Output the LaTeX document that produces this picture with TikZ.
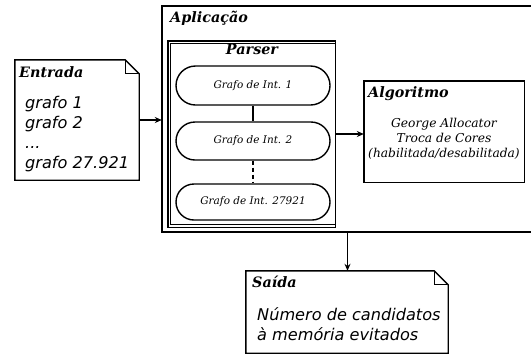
\documentclass[tikz,border=0pt]{standalone}
\usepackage{fontspec}
\setmainfont{DejaVu Serif}
\newfontfamily\dsans{DejaVu Sans}
\usetikzlibrary{arrows.meta,calc,shapes.misc}
\tikzset{
  ln/.style={line width=1.4bp, black},
  frame/.style={draw=none, inner sep=0pt, rectangle},
  ttl/.style={inner sep=0pt, anchor=base west, font=\fontsize{14.4}{16}\selectfont\bfseries\itshape},
  gnode/.style={draw, ln, rounded rectangle, rounded rectangle arc length=180, minimum width=154bp, inner sep=0pt, font=\fontsize{10.5}{12}\selectfont\itshape},
  arr/.style={ln, -{Stealth[length=7bp,width=6bp]}},
  sanstext/.style={inner sep=0pt, anchor=base west, align=left, font=\dsans\fontsize{16.2}{20}\selectfont\itshape},
}
\begin{document}
\begin{tikzpicture}[x=1bp,y=-1bp]
\useasboundingbox (0,0) rectangle (531,354);
% Entrada document
\node[frame, minimum width=124bp, minimum height=120bp] (ent) at (77,120) {};
\draw[ln, line join=miter] (ent.north west) -- ($(ent.north east)+(-14,0)$) -- ($(ent.north east)+(0,14)$) -- (ent.south east) -- (ent.south west) -- cycle;
\draw[ln, line width=0.9bp] ($(ent.north east)+(-14,0)$) -- ($(ent.north east)+(-14,14)$) -- ($(ent.north east)+(0,14)$);
\node[ttl] (entT) at (19,77) {Entrada};
\node[sanstext] (entX) at (25,168) {grafo 1\\grafo 2\\...\\grafo 27.921};
% Aplicacao box
\node[frame, minimum width=371bp, minimum height=226bp] (app) at (347.5,119) {};
\draw[ln, line width=1.6bp] (app.north west) rectangle (app.south east);
\node[ttl] (appT) at (170,22) {Aplicação};
% Parser box
\node[frame, minimum width=167bp, minimum height=186bp] (par) at (251.5,134) {};
\draw[ln] (par.north west) rectangle (par.south east);
\draw[ln, line width=1.1bp] ($(par.north east)+(0,2.5)$) -- ($(par.north west)+(2.5,2.5)$) -- ($(par.south west)+(2.5,-2.5)$) -- ($(par.south east)+(0,-2.5)$);
\node[ttl, anchor=base] (parT) at (252,54) {Parser};
\node[gnode, minimum height=39bp] (g1) at (253,85.5) {Grafo de Int. 1};
\node[gnode, minimum height=38bp] (g2) at (253,141) {Grafo de Int. 2};
\node[gnode, minimum height=36bp] (g3) at (253,202) {Grafo de Int. 27921};
\draw[ln] (g1.south) -- (g2.north);
\draw[ln, dashed, dash pattern=on 4bp off 3bp] (g2.south) -- (g3.north);
% Algoritmo
\node[frame, minimum width=160bp, minimum height=101bp] (alg) at (444,131.5) {};
\draw[ln] (alg.north west) rectangle (alg.south east);
\node[ttl] (algT) at (368,97) {Algoritmo};
\node[inner sep=0pt, align=center, font=\fontsize{12.3}{15}\selectfont\itshape] (algX) at (444,139) {George Allocator\\Troca de Cores\\(habilitada/desabilitada)};
% Saida document
\node[frame, minimum width=202bp, minimum height=82bp] (sai) at (347,312) {};
\draw[ln, line join=miter] (sai.north west) -- ($(sai.north east)+(-14,0)$) -- ($(sai.north east)+(0,14)$) -- (sai.south east) -- (sai.south west) -- cycle;
\draw[ln, line width=0.9bp] ($(sai.north east)+(-14,0)$) -- ($(sai.north east)+(-14,14)$) -- ($(sai.north east)+(0,14)$);
\node[ttl] (saiT) at (252,287) {Saída};
\node[sanstext] (saiX) at (257,340) {Número de candidatos\\à memória evitados};
% arrows
\draw[arr] (ent.east) -- (ent.east -| app.west);
\draw[arr] (par.east) -- (par.east -| alg.west);
\draw[arr] (app.south) -- (app.south |- sai.north);
\end{tikzpicture}
\end{document}
